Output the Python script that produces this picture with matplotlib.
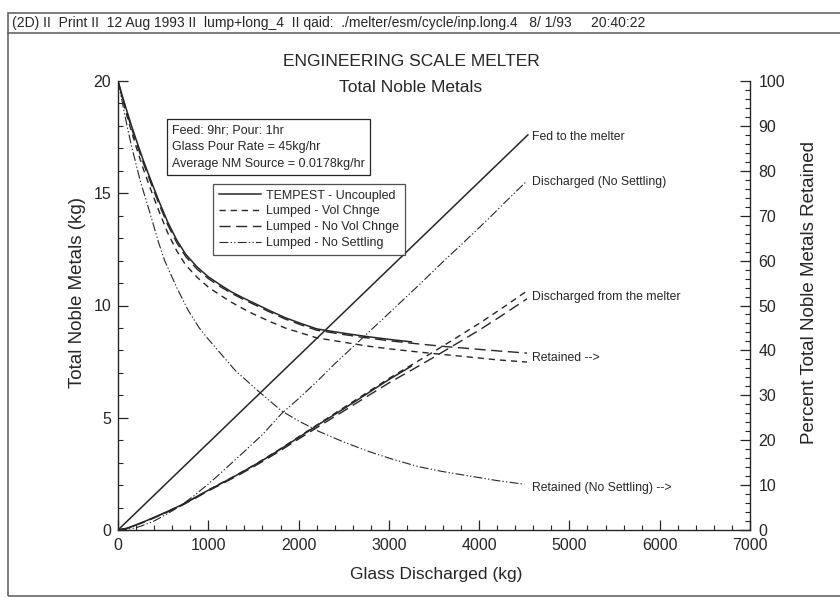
import matplotlib
matplotlib.use('Agg')
import matplotlib.pyplot as plt
from matplotlib.lines import Line2D
from matplotlib.patches import Rectangle
from matplotlib.ticker import MultipleLocator

plt.rcParams['font.family'] = ['Liberation Sans', 'DejaVu Sans']

INK = '#262626'

# Noble metals fed to the melter (kg)
glass_fed = [0, 4540]
nm_fed = [0, 17.6]

# Discharged from the melter (kg)
glass_lumped = [0, 100, 200, 300, 400, 550, 700, 850, 1000, 1150, 1300, 1450, 1600,
                1800, 2000, 2250, 2500, 2750, 3000, 3250, 3500, 3750, 4000, 4250, 4530]
dis_vol_chnge = [0, 0.07, 0.22, 0.38, 0.55, 0.82, 1.1, 1.43, 1.78, 2.1, 2.42, 2.76, 3.12,
                 3.62, 4.15, 4.8, 5.45, 6.1, 6.75, 7.35, 7.95, 8.57, 9.2, 9.87, 10.65]
dis_no_vol_chnge = [0, 0.07, 0.22, 0.37, 0.54, 0.8, 1.08, 1.4, 1.74, 2.05, 2.37, 2.7, 3.05,
                    3.54, 4.05, 4.68, 5.3, 5.93, 6.55, 7.12, 7.7, 8.3, 8.9, 9.55, 10.3]

glass_tempest_dis = [0, 100, 200, 300, 400, 550, 700, 850, 1000, 1150, 1300, 1450, 1600,
                     1800, 2000, 2250, 2500, 2750, 3000, 3250]
dis_tempest = [0, 0.08, 0.23, 0.39, 0.56, 0.83, 1.11, 1.44, 1.77, 2.09, 2.41, 2.75, 3.1,
               3.6, 4.12, 4.77, 5.4, 6.05, 6.7, 7.3]

glass_ns_dis = [0, 100, 200, 300, 400, 555, 700, 850, 1000, 1100, 1250, 1400, 1600, 1813,
                2000, 2200, 2400, 2627, 2800, 3000, 3330, 3600, 3800, 4100, 4300, 4530]
dis_no_settling = [0, 0.03, 0.1, 0.24, 0.4, 0.74, 1.1, 1.55, 2.05, 2.4, 2.95, 3.5, 4.25, 5.19,
                   5.85, 6.6, 7.4, 8.25, 8.9, 9.65, 10.9, 11.95, 12.7, 13.85, 14.65, 15.55]

# Percent of noble metals retained in the melter
glass_ret = [0, 50, 100, 150, 200, 275, 350, 450, 550, 650, 750, 875, 1000, 1125, 1250,
             1375, 1500, 1675, 1850, 2025, 2200, 2475, 2750, 3025, 3300, 3600, 3900, 4200, 4530]
ret_no_vol_chnge = [100, 96.3, 92.8, 89.5, 86.4, 82.0, 78.0, 72.8, 68.0, 64.0, 60.9, 58.1,
                    56.0, 54.3, 52.8, 51.5, 50.3, 48.6, 47.0, 45.7, 44.5, 43.6, 42.8, 42.1,
                    41.5, 40.9, 40.4, 39.9, 39.4]
ret_vol_chnge = [100, 96.0, 92.2, 88.7, 85.4, 80.7, 76.5, 71.2, 66.2, 62.2, 59.0, 56.3,
                 54.1, 52.4, 50.8, 49.4, 48.1, 46.5, 45.0, 43.9, 42.8, 41.9, 41.0, 40.3,
                 39.7, 39.1, 38.5, 37.9, 37.4]

glass_tempest_ret = [0, 50, 100, 150, 200, 275, 350, 450, 550, 650, 750, 875, 1000, 1125,
                     1250, 1375, 1500, 1675, 1850, 2025, 2200, 2475, 2750, 3025, 3250]
ret_tempest = [100, 96.5, 93.2, 90.0, 87.0, 82.6, 78.6, 73.4, 68.6, 64.6, 61.4, 58.6, 56.4,
               54.7, 53.1, 51.8, 50.6, 48.9, 47.3, 46.0, 44.8, 43.9, 43.1, 42.4, 41.9]

glass_ns_ret = [0, 50, 100, 150, 250, 354, 450, 517, 650, 775, 900, 1000, 1107, 1300, 1550,
                1813, 2000, 2220, 2500, 2775, 3050, 3330, 3600, 3900, 4200, 4500]
ret_no_settling = [100, 95, 90, 85.5, 77.5, 70.6, 64, 60, 54, 49, 45, 42.5, 40, 35.5, 31,
                   26.5, 24.3, 22, 19.6, 17.5, 15.7, 14.1, 13, 12, 11, 10.2]

W, H = 840, 598
fig = plt.figure(figsize=(W / 100, H / 100), dpi=100)


def fx(px):
    return px / W


def fy(py):
    return 1 - py / H


ax = fig.add_axes([fx(118), fy(530), fx(750) - fx(118), fy(81) - fy(530)])
ax2 = ax.twinx()

solid = dict(color=INK, lw=1.1, linestyle='-')
short_dash = dict(color=INK, lw=1.0, dashes=(4.5, 3.5))
long_dash = dict(color=INK, lw=1.0, dashes=(8, 4))
dash_dot = dict(color=INK, lw=0.8, dashes=(8, 2, 1.2, 2, 1.2, 2))

ax.plot(glass_fed, nm_fed, **solid)
ax.plot(glass_tempest_dis, dis_tempest, **solid)
ax.plot(glass_lumped, dis_vol_chnge, **short_dash)
ax.plot(glass_lumped, dis_no_vol_chnge, **long_dash)
ax.plot(glass_ns_dis, dis_no_settling, **dash_dot)

ax2.plot(glass_tempest_ret, ret_tempest, **solid)
ax2.plot(glass_ret, ret_vol_chnge, **short_dash)
ax2.plot(glass_ret, ret_no_vol_chnge, **long_dash)
ax2.plot(glass_ns_ret, ret_no_settling, **dash_dot)

ax.set_xlim(0, 7000)
ax.set_ylim(0, 20)
ax2.set_ylim(0, 100)

ax.xaxis.set_major_locator(MultipleLocator(1000))
ax.xaxis.set_minor_locator(MultipleLocator(200))
ax.yaxis.set_major_locator(MultipleLocator(5))
ax.yaxis.set_minor_locator(MultipleLocator(1))
ax2.yaxis.set_major_locator(MultipleLocator(10))
ax2.yaxis.set_minor_locator(MultipleLocator(2))

for a in (ax, ax2):
    a.spines['top'].set_visible(False)
    for s in a.spines.values():
        s.set_color(INK)
        s.set_linewidth(1.0)
    a.tick_params(which='major', direction='in', length=7, width=0.9,
                  colors=INK, labelsize=11.5)
    a.tick_params(which='minor', direction='in', length=3.5, width=0.8, colors=INK)
ax.tick_params(axis='y', pad=5)
ax.tick_params(axis='x', pad=6)
ax2.tick_params(axis='y', pad=6)
ax.spines['right'].set_visible(False)
ax2.spines['left'].set_visible(False)
ax2.spines['bottom'].set_visible(False)

# curve labels at the ends of the lines
notes = [
    ("Fed to the melter", 17.5),
    ("Discharged (No Settling)", 15.5),
    ("Discharged from the melter", 10.4),
    ("Retained -->", 7.66),
    ("Retained (No Settling) -->", 1.87),
]
for txt, yv in notes:
    ax.text(4590, yv, txt, fontsize=8.8, color=INK, va='center', ha='left')

# axis labels
fig.text(fx(436), fy(575), "Glass Discharged (kg)", fontsize=12.5,
         color=INK, ha='center', va='center')
fig.text(fx(78), fy(292), "Total Noble Metals (kg)", fontsize=13.5,
         color=INK, ha='center', va='center', rotation=90)
fig.text(fx(810), fy(293), "Percent Total Noble Metals Retained", fontsize=13.5,
         color=INK, ha='center', va='center', rotation=90)

# titles
fig.text(fx(411), fy(62), "ENGINEERING SCALE MELTER", fontsize=12.5,
         color=INK, ha='center', va='center')
fig.text(fx(411), fy(88), "Total Noble Metals", fontsize=12.5,
         color=INK, ha='center', va='center')

# run conditions box
fig.text(fx(172), fy(147),
         "Feed: 9hr; Pour: 1hr\nGlass Pour Rate = 45kg/hr\nAverage NM Source = 0.0178kg/hr",
         fontsize=9, color=INK, ha='left', va='center', linespacing=1.55,
         bbox=dict(boxstyle='square,pad=0.4', fc='white', ec=INK, lw=0.9))

handles = [
    Line2D([], [], **solid),
    Line2D([], [], **short_dash),
    Line2D([], [], **long_dash),
    Line2D([], [], **dash_dot),
]
labels = ["TEMPEST - Uncoupled", "Lumped - Vol Chnge",
          "Lumped - No Vol Chnge", "Lumped - No Settling"]
leg = ax2.legend(handles, labels, loc='upper left',
                 bbox_to_anchor=(fx(213), fy(184)), bbox_transform=fig.transFigure,
                 fontsize=9, frameon=True, fancybox=False, borderaxespad=0,
                 handlelength=3.4, handletextpad=0.4, labelspacing=0.3,
                 borderpad=0.45)
leg.get_frame().set_edgecolor(INK)
leg.get_frame().set_linewidth(0.9)
for t in leg.get_texts():
    t.set_color(INK)

# printout frame and header strip
frame_col = '#666666'
fig.add_artist(Rectangle((fx(8), fy(596)), 2.0, fy(13) - fy(596),
                         transform=fig.transFigure, fill=False,
                         ec=frame_col, lw=1.2))
fig.add_artist(Line2D([fx(8), 1.0], [fy(33), fy(33)],
                      transform=fig.transFigure, color=frame_col, lw=1.2))
fig.text(fx(12), fy(23),
         "(2D) II  Print II  12 Aug 1993 II  lump+long_4  II qaid:  ./melter/esm/cycle/inp.long.4   8/ 1/93     20:40:22",
         fontsize=10, color=INK, ha='left', va='center')

fig.savefig('out.png', dpi=100, facecolor='white')
